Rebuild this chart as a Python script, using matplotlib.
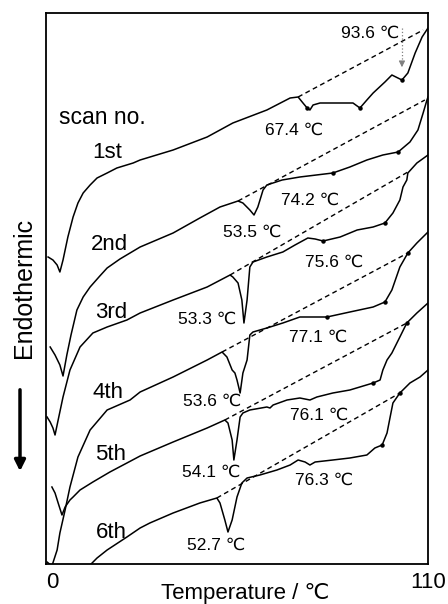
import numpy as np
from matplotlib import pyplot as plt

plt.rcParams['font.family'] = ['Liberation Sans', 'DejaVu Sans']

# DSC traces, temperature (C) and heat flow (arbitrary units)
t1 = [0.6, 2.0, 3.2, 4.0, 4.9, 6.3, 7.8, 9.2, 10.7, 12.7, 14.7, 17.6, 20.4, 25.1, 27.1, 36.6, 46.4, 53.8,
      63.6, 70.3, 72.6, 74.0, 75.2, 76.0, 76.9, 78.9, 84.7, 88.4, 90.4, 92.4, 94.2, 97.6, 99.6, 102.5,
      104.2, 106.3, 108.3, 110]
s1 = [307, 304, 299, 292, 304, 327, 347, 361, 371, 379, 386, 391, 396, 401, 404, 414, 427, 441,
      454, 466, 467, 461, 456, 454, 459, 461, 461, 461, 456, 464, 471, 482, 489, 484,
      491, 511, 527, 536]

t2 = [1.2, 2.6, 4.0, 4.9, 6.0, 7.2, 8.9, 10.7, 12.7, 15.5, 17.6, 21.3, 24.2, 27.1, 36.6, 44.3, 50.1, 55.3,
      56.7, 58.7, 59.9, 61.0, 62.5, 63.6, 68.0, 73.1, 82.6, 87.5, 92.4, 97.0, 101.4, 104.8, 107.1, 108.6, 109.7, 110]
s2 = [217, 209, 199, 188, 209, 229, 254, 267, 277, 288, 296, 305, 311, 317, 331, 346, 357, 363,
      361, 354, 349, 357, 374, 379, 384, 387, 391, 397, 404, 409, 412, 422, 434, 451, 464, 467]

t3 = [0.3, 1.2, 2.0, 2.6, 3.5, 4.9, 6.9, 9.8, 13.5, 17.6, 23.3, 27.1, 36.6, 46.4, 53.0, 53.8, 55.3, 56.4,
      57.0, 57.9, 58.7, 59.6, 63.6, 68.2, 71.7, 75.4, 77.5, 79.8, 84.7, 89.6, 94.2, 97.6, 99.9, 101.9,
      102.8, 103.9, 104.2, 106.8, 110]
s3 = [147, 142, 136, 129, 144, 167, 194, 217, 231, 237, 244, 251, 264, 277, 289, 287, 281, 264,
      241, 264, 297, 302, 307, 312, 319, 326, 325, 323, 327, 334, 337, 341, 351, 364,
      377, 384, 391, 401, 409]

t4 = [0.3, 1.7, 3.2, 4.0, 5.5, 6.9, 9.2, 12.7, 17.6, 24.2, 27.1, 36.6, 46.4, 50.7, 52.1, 53.6, 54.4, 55.0,
      55.9, 56.7, 57.9, 58.7, 59.6, 63.6, 68.2, 73.1, 80.9, 87.5, 94.2, 97.6, 99.6, 101.9, 104.2, 106.8, 110]
s4 = [2, -2, 14, 31, 54, 77, 107, 134, 154, 164, 172, 187, 204, 212, 207, 194, 191, 184,
      171, 191, 204, 229, 232, 236, 241, 247, 247, 252, 257, 262, 274, 297, 311, 321, 332]

t5 = [1.7, 2.6, 3.5, 4.6, 5.5, 6.9, 7.8, 9.8, 13.5, 18.4, 23.3, 27.1, 36.6, 46.4, 51.5, 52.4, 53.6, 54.1,
      55.0, 55.9, 56.7, 58.7, 63.6, 64.5, 65.4, 69.4, 73.1, 76.0, 78.0, 82.6, 87.5, 94.2, 96.2, 97.0,
      98.2, 99.6, 101.9, 103.9, 106.8, 110]
s5 = [77, 71, 61, 49, 57, 64, 67, 74, 82, 92, 101, 108, 122, 136, 144, 141, 124, 104,
      124, 147, 151, 154, 157, 156, 159, 164, 166, 164, 167, 171, 174, 181, 184, 194,
      204, 211, 227, 241, 251, 261]

t6 = [12.7, 14.7, 17.6, 23.3, 27.1, 29.9, 36.6, 44.3, 49.2, 50.1, 51.5, 52.4, 53.6, 55.0, 56.4, 57.9, 61.6,
      66.5, 70.3, 72.6, 74.6, 76.0, 77.5, 82.6, 87.5, 92.4, 94.7, 96.8, 98.2, 99.1, 99.9, 101.9, 104.8, 107.7, 110]
s6 = [-1, 6, 14, 27, 36, 41, 51, 61, 66, 61, 44, 32, 44, 67, 81, 86, 89,
      94, 99, 104, 102, 99, 102, 104, 106, 109, 116, 119, 131, 147, 161, 171, 181, 187, 194]

# little dots on the traces
dot_t = [75.2, 90.4, 102.5, 82.6, 101.4, 79.8, 97.6, 80.9, 97.6, 104.2, 94.2, 103.9, 96.8, 101.9]
dot_s = [456, 456, 484, 391, 412, 323, 341, 247, 262, 311, 181, 241, 119, 171]

# dashed baselines (start T, start s, end T, end s)
bases = [(72.6, 467, 108.6, 534), (55.3, 363, 109.1, 464), (53.0, 289, 104.2, 392),
         (50.7, 212, 104.2, 311), (51.5, 144, 103.9, 241), (49.2, 66, 101.9, 171)]

scan_names = ['1st', '2nd', '3rd', '4th', '5th', '6th']
scan_pos = [(17.6, 411), (18.4, 319), (18.7, 251), (17.9, 172), (18.7, 109), (18.7, 32)]

peak_labels = ['93.6 ℃', '67.4 ℃', '74.2 ℃', '53.5 ℃', '75.6 ℃', '53.3 ℃',
               '77.1 ℃', '53.6 ℃', '76.1 ℃', '54.1 ℃', '76.3 ℃', '52.7 ℃']
peak_pos = [(93.3, 531), (71.4, 434), (76.0, 364), (59.3, 332), (82.9, 302), (46.4, 245),
            (78.3, 227), (47.8, 163), (78.6, 149), (47.5, 92), (80.1, 84), (49.0, 19)]

fig = plt.figure(figsize=(4.48, 6.04), dpi=100)
ax = fig.add_axes([46 / 448, 40 / 604, 382 / 448, 551 / 604])

for t, s in [(t1, s1), (t2, s2), (t3, s3), (t4, s4), (t5, s5), (t6, s6)]:
    ax.plot(t, s, color='black', lw=1.1, solid_joinstyle='round')

ax.plot(dot_t, dot_s, 'o', color='black', ms=2.2)

for b in bases:
    ax.plot([b[0], b[2]], [b[1], b[3]], color='black', lw=1.0, ls=(0, (3.5, 2.5)))

for name, p in zip(scan_names, scan_pos):
    ax.text(p[0], p[1], name, fontsize=16, ha='center', va='center')
ax.text(16.1, 446, 'scan no.', fontsize=16.5, ha='center', va='center')

for lab, p in zip(peak_labels, peak_pos):
    ax.text(p[0], p[1], lab, fontsize=12.5, ha='center', va='center')

# dotted arrow for the 93.6 peak
ax.plot([102.5, 102.5], [536, 502], color='gray', lw=0.9, ls=':')
ax.annotate('', xy=(102.5, 494), xytext=(102.5, 504),
            arrowprops=dict(arrowstyle='-|>', color='gray', lw=0.8, mutation_scale=9))

ax.set_xlim(0, 110)
ax.set_ylim(0, 551)
ax.set_xticks([0, 110])
ax.set_xticklabels(['0', '110'], fontsize=16)
ax.get_xticklabels()[0].set_ha('left')
ax.tick_params(axis='x', length=0, pad=6)
ax.set_yticks([])
for sp in ax.spines.values():
    sp.set_linewidth(1.3)

fig.text(245 / 448, 1 - 593 / 604, 'Temperature / ℃', fontsize=16, ha='center', va='center')
fig.text(24 / 448, 1 - 288 / 604, 'Endothermic', fontsize=18, rotation=90, ha='center', va='center')
fig.patches.append(plt.matplotlib.patches.FancyArrowPatch(
    (20 / 448, 1 - 387 / 604), (20 / 448, 1 - 474 / 604), transform=fig.transFigure,
    arrowstyle='-|>', mutation_scale=16, lw=2.5, color='black'))

plt.savefig('out.png')
